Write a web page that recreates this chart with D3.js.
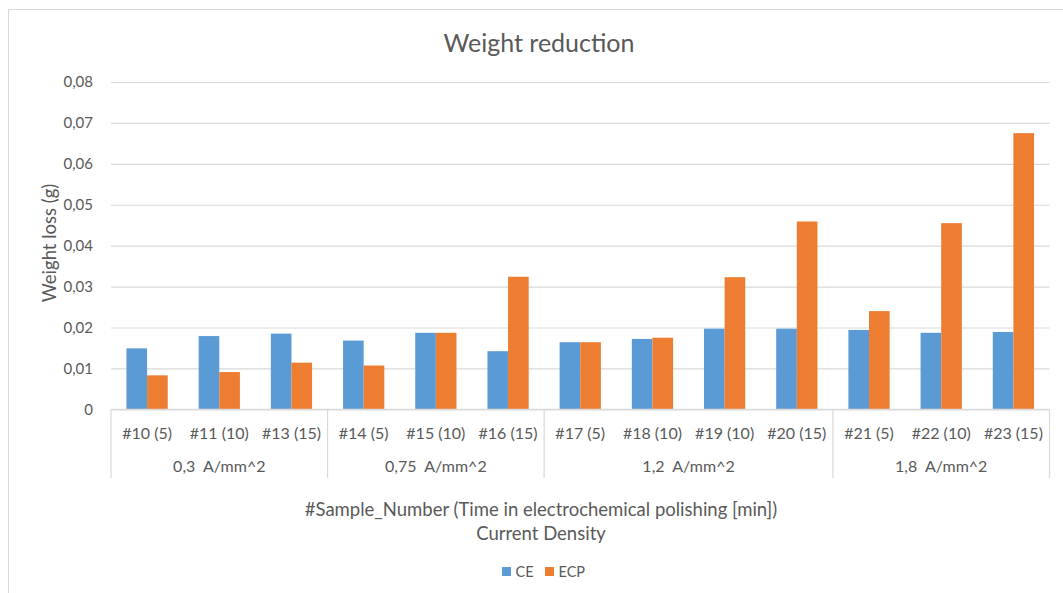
<!DOCTYPE html>
<html>
<head>
<meta charset="utf-8">
<script src="https://cdn.jsdelivr.net/npm/d3@7"></script>
<style>
  html, body { margin: 0; padding: 0; background: #fff; }
  svg { display: block; font-family: Lato, "Open Sans", sans-serif; }
</style>
</head>
<body>
<svg id="chart" width="1063" height="593"></svg>
<script>
// Samples: "#number (minutes of electrochemical polishing)"
const samples = ["#10 (5)", "#11 (10)", "#13 (15)", "#14 (5)", "#15 (10)", "#16 (15)",
                 "#17 (5)", "#18 (10)", "#19 (10)", "#20 (15)", "#21 (5)", "#22 (10)", "#23 (15)"];
// Current density group of each sample
const densityGroups = ["0,3  A/mm^2", "0,75  A/mm^2", "1,2  A/mm^2", "1,8  A/mm^2"];
const groupSizes = [3, 3, 4, 3];
const seriesNames = ["CE", "ECP"];
// Weight loss in grams
const ceValues  = [0.0149, 0.0179, 0.0185, 0.0168, 0.0187, 0.0142, 0.0164, 0.0172, 0.0197, 0.0197, 0.0194, 0.0187, 0.0189];
const ecpValues = [0.0083, 0.0091, 0.0114, 0.0107, 0.0187, 0.0324, 0.0164, 0.0175, 0.0323, 0.0459, 0.0240, 0.0455, 0.0675];
const yTicks = [0, 0.01, 0.02, 0.03, 0.04, 0.05, 0.06, 0.07, 0.08];

const colors = { CE: "#5b9bd5", ECP: "#ed7d31" };
const textColor = "#595959";
const lineColor = "#d9d9d9";

const svg = d3.select("#chart");
svg.append("rect").attr("width", 1063).attr("height", 593).attr("fill", "#fff");

// chart area outline
svg.append("rect")
  .attr("x", 8.5).attr("y", 9.5).attr("width", 1080).attr("height", 620)
  .attr("fill", "none").attr("stroke", lineColor).attr("stroke-width", 1);

const plot = { left: 111, right: 1049.5, top: 82, bottom: 409.3 };

const y = d3.scaleLinear().domain([0, 0.08]).range([plot.bottom, plot.top]);
const x = d3.scaleBand().domain(samples).range([plot.left, plot.right]).padding(0);
const xs = d3.scaleBand().domain(seriesNames).range([0, x.bandwidth()])
  .paddingInner(0).paddingOuter(0.75);

const fmt = v => v === 0 ? "0" : d3.format(".2f")(v).replace(".", ",");

// Title
svg.append("text")
  .attr("x", 539).attr("y", 51.5)
  .attr("text-anchor", "middle")
  .attr("fill", textColor)
  .style("font-size", "25px")
  .text("Weight reduction");

// Gridlines and value axis
const yAxis = d3.axisLeft(y).tickValues(yTicks).tickFormat(fmt)
  .tickSize(-(plot.right - plot.left)).tickPadding(18);
const gy = svg.append("g").attr("transform", `translate(${plot.left},0)`).call(yAxis);
gy.select(".domain").remove();
gy.selectAll(".tick line").attr("stroke", lineColor).attr("stroke-width", 1.2);
gy.selectAll(".tick text").attr("fill", textColor).style("font-size", "15px")
  .style("font-family", "Lato, 'Open Sans', sans-serif");

// Bars
const rows = samples.map((s, i) => ({ sample: s, CE: ceValues[i], ECP: ecpValues[i] }));
const groups = svg.append("g").selectAll("g").data(rows).join("g")
  .attr("transform", d => `translate(${x(d.sample)},0)`);
groups.selectAll("rect")
  .data(d => seriesNames.map(k => ({ key: k, value: d[k] })))
  .join("rect")
  .attr("x", d => xs(d.key))
  .attr("width", xs.bandwidth())
  .attr("y", d => y(d.value))
  .attr("height", d => y(0) - y(d.value))
  .attr("fill", d => colors[d.key]);

// Category axis line
svg.append("line")
  .attr("x1", plot.left).attr("x2", plot.right)
  .attr("y1", plot.bottom).attr("y2", plot.bottom)
  .attr("stroke", lineColor).attr("stroke-width", 1.2);

// Sample labels
svg.append("g").selectAll("text").data(samples).join("text")
  .attr("x", d => x(d) + x.bandwidth() / 2)
  .attr("y", 438.5)
  .attr("text-anchor", "middle")
  .attr("fill", textColor)
  .style("font-size", "16px")
  .text(d => d);

// Group separators and current density labels
let start = 0;
const groupInfo = densityGroups.map((g, i) => {
  const first = samples[start];
  const last = samples[start + groupSizes[i] - 1];
  start += groupSizes[i];
  return { label: g, x0: x(first), x1: x(last) + x.bandwidth() };
});
const bounds = [groupInfo[0].x0].concat(groupInfo.map(g => g.x1));
svg.append("g").selectAll("line").data(bounds).join("line")
  .attr("x1", d => d).attr("x2", d => d)
  .attr("y1", plot.bottom).attr("y2", 478)
  .attr("stroke", lineColor).attr("stroke-width", 1.2);
svg.append("g").selectAll("text").data(groupInfo).join("text")
  .attr("x", d => (d.x0 + d.x1) / 2)
  .attr("y", 471.5)
  .attr("text-anchor", "middle")
  .attr("fill", textColor)
  .style("font-size", "16px")
  .style("white-space", "pre")
  .attr("xml:space", "preserve")
  .text(d => d.label);

// Axis titles
svg.append("text")
  .attr("x", 541).attr("y", 516)
  .attr("text-anchor", "middle").attr("fill", textColor)
  .style("font-size", "18.5px")
  .text("#Sample_Number (Time in electrochemical polishing [min])");
svg.append("text")
  .attr("x", 541).attr("y", 540)
  .attr("text-anchor", "middle").attr("fill", textColor)
  .style("font-size", "18.5px")
  .text("Current Density");
svg.append("text")
  .attr("transform", "translate(56,243) rotate(-90)")
  .attr("text-anchor", "middle").attr("fill", textColor)
  .style("font-size", "18.5px")
  .text("Weight loss (g)");

// Legend
const legendItems = [{ key: "CE", x: 502 }, { key: "ECP", x: 545 }];
const lg = svg.append("g").selectAll("g").data(legendItems).join("g")
  .attr("transform", d => `translate(${d.x},567)`);
lg.append("rect").attr("width", 9).attr("height", 9).attr("fill", d => colors[d.key]);
lg.append("text").attr("x", 13.5).attr("y", 9.5)
  .attr("fill", textColor).style("font-size", "14.5px").text(d => d.key);
</script>
</body>
</html>
